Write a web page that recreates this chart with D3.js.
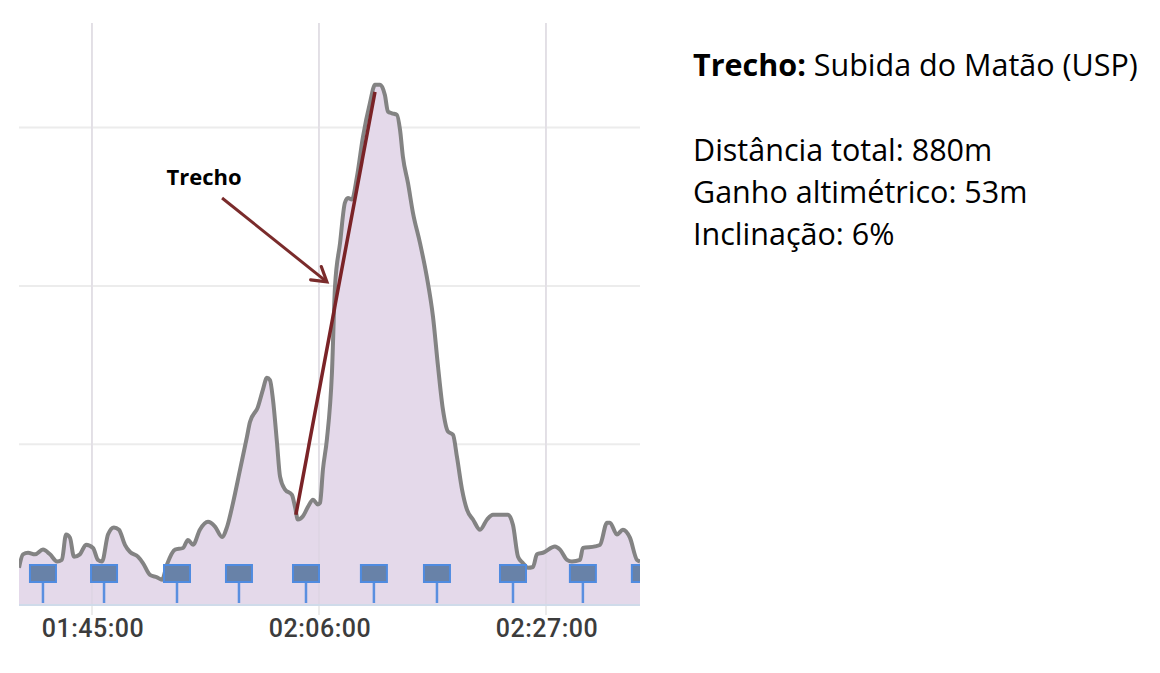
<!DOCTYPE html>
<html>
<head>
<meta charset="utf-8">
<script src="https://cdn.jsdelivr.net/npm/d3@7"></script>
<style>
  body { margin: 0; background: #fff; }
  svg { display: block; }
</style>
</head>
<body>
<svg id="chart"></svg>
<script>
const WIDTH = 1160;
const HEIGHT = 673;

// elevation profile (time, metres)
const profileTimes = [
  "01:38:15","01:38:37","01:39:05","01:39:44","01:40:28","01:41:07","01:41:46","01:42:13",
  "01:42:36","01:42:58","01:43:20","01:43:53","01:44:27","01:45:06","01:45:33","01:45:56",
  "01:46:29","01:47:02","01:47:30","01:48:03","01:48:31","01:49:15","01:49:43","01:50:22",
  "01:51:01","01:51:29","01:51:56","01:52:41","01:53:25","01:53:53","01:54:21","01:54:59",
  "01:55:44","01:56:23","01:57:02","01:57:29","01:58:03","01:58:42","01:59:20","01:59:37",
  "02:00:21","02:00:49","02:01:11","02:01:28","02:01:45","02:02:07","02:02:24","02:02:51",
  "02:03:30","02:03:47","02:04:03","02:04:31","02:04:59","02:05:27","02:05:54","02:06:06",
  "02:06:22","02:06:44","02:07:12","02:07:29","02:07:57","02:08:24","02:08:41","02:09:03",
  "02:09:31","02:10:04","02:10:43","02:11:11","02:11:39","02:12:06","02:12:23","02:12:45",
  "02:13:13","02:13:30","02:13:46","02:14:14","02:14:42","02:15:21","02:15:59","02:16:33",
  "02:17:01","02:17:28","02:17:56","02:18:24","02:18:46","02:19:14","02:19:42","02:20:15",
  "02:20:54","02:21:33","02:22:06","02:23:29","02:23:57","02:24:25","02:24:52","02:25:20",
  "02:25:48","02:26:10","02:26:43","02:27:50","02:28:18","02:28:57","02:29:24","02:30:09",
  "02:30:25","02:31:32","02:32:00","02:32:39","02:32:55","02:33:34","02:34:07","02:34:46",
  "02:35:25","02:35:42"
];
const profileElev = [
  724.4,726.1,726.3,726.1,726.7,726.1,725.2,725.4,
  728.6,728.2,725.8,726.1,727.3,726.9,725.4,725.2,
  728.6,729.5,729.2,727.3,726.4,725.8,725.0,723.5,
  723.2,722.9,724.8,726.7,726.9,727.9,727.3,729.2,
  730.2,729.6,728.3,729.5,732.6,736.8,740.9,742.8,
  744.7,746.9,748.4,748.1,745.6,740.2,735.9,734.3,
  733.6,732.1,730.5,730.9,732.1,733.0,732.4,732.6,
  736.8,740.6,749.0,759.9,765.4,770.5,771.1,770.9,
  773.8,778.8,783.1,785.4,785.4,784.1,782.0,781.8,
  781.6,779.7,776.3,773.0,769.2,765.4,761.1,756.1,
  749.8,744.4,741.6,741.2,738.4,734.3,731.7,730.5,
  729.2,730.5,731.1,731.1,729.8,725.8,725.0,724.4,
  724.5,726.1,726.3,727.1,726.7,725.4,725.2,725.4,
  726.9,727.1,727.3,730.1,730.1,728.6,729.2,728.2,
  725.4,725.2
];

// lap markers along the bottom
const lapTimes = ["01:40:28","01:46:07","01:52:52","01:58:36","02:04:48",
                  "02:11:05","02:16:55","02:23:57","02:30:25","02:36:09"];

const tickLabels = ["01:45:00", "02:06:00", "02:27:00"];
const gridLevels = [740, 760, 780];
const timeDomain = ["01:38:15", "02:35:42"];
const elevDomain = [719.7, 793.2];

// the highlighted climb and the arrow pointing at it
const trechoTimes = ["02:03:52", "02:11:11"];
const trechoElev = [731.1, 784.5];
const arrowTimes = ["01:57:02", "02:06:44"];
const arrowElev = [771.1, 760.5];
const arrowLabel = "Trecho";

const infoTitle = ["Trecho:", " Subida do Matão (USP)"];
const infoLines = ["Distância total: 880m", "Ganho altimétrico: 53m", "Inclinação: 6%"];

const parseTime = d3.timeParse("%H:%M:%S");

const LEFT = 19, RIGHT = 640, TOP = 23, BOTTOM = 605;

const svg = d3.select("#chart")
    .attr("width", WIDTH)
    .attr("height", HEIGHT);

const x = d3.scaleTime()
    .domain(timeDomain.map(parseTime))
    .range([LEFT, RIGHT]);

const y = d3.scaleLinear()
    .domain(elevDomain)
    .range([BOTTOM, TOP]);

svg.append("defs").append("clipPath")
    .attr("id", "plot-clip")
  .append("rect")
    .attr("x", LEFT).attr("y", 0)
    .attr("width", RIGHT - LEFT).attr("height", HEIGHT);

// grid
svg.append("g").selectAll("line")
    .data(gridLevels)
    .join("line")
    .attr("x1", LEFT).attr("x2", RIGHT)
    .attr("y1", d => y(d)).attr("y2", d => y(d))
    .attr("stroke", "#ececec")
    .attr("stroke-width", 2);

const ticks = tickLabels.map(parseTime);

svg.append("g").selectAll("line")
    .data(ticks)
    .join("line")
    .attr("x1", d => x(d)).attr("x2", d => x(d))
    .attr("y1", TOP).attr("y2", BOTTOM + 10)
    .attr("stroke", "#ececec")
    .attr("stroke-width", 2);

const data = profileTimes.map((t, i) => ({ t: parseTime(t), e: profileElev[i] }));

const plot = svg.append("g").attr("clip-path", "url(#plot-clip)");

plot.append("path")
    .datum(data)
    .attr("fill", "#e4d9ea")
    .attr("d", d3.area()
        .x(d => x(d.t))
        .y0(BOTTOM)
        .y1(d => y(d.e))
        .curve(d3.curveMonotoneX));

// vertical grid shows faintly through the fill
plot.append("g").selectAll("line")
    .data(ticks)
    .join("line")
    .attr("x1", d => x(d)).attr("x2", d => x(d))
    .attr("y1", TOP).attr("y2", BOTTOM)
    .attr("stroke", "#d9d3e0")
    .attr("stroke-width", 1.5)
    .attr("opacity", 0.6);

plot.append("path")
    .datum(data)
    .attr("fill", "none")
    .attr("stroke", "#838383")
    .attr("stroke-width", 4)
    .attr("stroke-linejoin", "round")
    .attr("d", d3.line()
        .x(d => x(d.t))
        .y(d => y(d.e))
        .curve(d3.curveMonotoneX));

// axis line
svg.append("line")
    .attr("x1", LEFT).attr("x2", RIGHT)
    .attr("y1", BOTTOM).attr("y2", BOTTOM)
    .attr("stroke", "#cfdbea")
    .attr("stroke-width", 2);

// lap markers
const laps = plot.append("g").selectAll("g")
    .data(lapTimes.map(parseTime))
    .join("g")
    .attr("transform", d => "translate(" + x(d) + ",0)");

laps.append("line")
    .attr("y1", 582).attr("y2", BOTTOM - 2)
    .attr("stroke", "#5a8fe0")
    .attr("stroke-width", 2.5);

laps.append("rect")
    .attr("x", -13).attr("y", 565)
    .attr("width", 26).attr("height", 17)
    .attr("fill", "#6882a8")
    .attr("stroke", "#4f8be0")
    .attr("stroke-width", 2);

// tick labels
svg.append("g").selectAll("text")
    .data(ticks)
    .join("text")
    .attr("x", d => x(d) + 1)
    .attr("y", 637)
    .attr("text-anchor", "middle")
    .attr("font-family", "Roboto, sans-serif")
    .attr("font-weight", 500)
    .attr("font-size", 25)
    .attr("fill", "#3c3c3c")
    .attr("letter-spacing", 0.5)
    .text((d, i) => tickLabels[i]);

// highlighted stretch
svg.append("line")
    .attr("x1", x(parseTime(trechoTimes[0]))).attr("y1", y(trechoElev[0]))
    .attr("x2", x(parseTime(trechoTimes[1]))).attr("y2", y(trechoElev[1]))
    .attr("stroke", "#7a2327")
    .attr("stroke-width", 3.5);

// arrow
svg.select("defs").append("marker")
    .attr("id", "head")
    .attr("markerUnits", "userSpaceOnUse")
    .attr("viewBox", "-18 -12 22 24")
    .attr("markerWidth", 22).attr("markerHeight", 24)
    .attr("refX", 0).attr("refY", 0)
    .attr("orient", "auto")
  .append("path")
    .attr("d", "M-14,-8.5 L0,0 L-14,8.5")
    .attr("fill", "none")
    .attr("stroke", "#7a2b2b")
    .attr("stroke-width", 3.2)
    .attr("stroke-linecap", "round")
    .attr("stroke-linejoin", "miter");

const ax0 = x(parseTime(arrowTimes[0])), ay0 = y(arrowElev[0]);
const ax1 = x(parseTime(arrowTimes[1])), ay1 = y(arrowElev[1]);

svg.append("line")
    .attr("x1", ax0).attr("y1", ay0)
    .attr("x2", ax1).attr("y2", ay1)
    .attr("stroke", "#7a2b2b")
    .attr("stroke-width", 3)
    .attr("marker-end", "url(#head)");

svg.append("text")
    .attr("x", ax0 - 18)
    .attr("y", ay0 - 13)
    .attr("text-anchor", "middle")
    .attr("font-family", "'Open Sans', sans-serif")
    .attr("font-weight", 700)
    .attr("font-size", 22)
    .attr("fill", "#000")
    .text(arrowLabel);

// info text on the right
const title = svg.append("text")
    .attr("x", 693)
    .attr("y", 76)
    .attr("font-family", "'Open Sans', sans-serif")
    .attr("font-size", 30.5)
    .attr("fill", "#000");
title.append("tspan").attr("font-weight", 700).text(infoTitle[0]);
title.append("tspan").text(infoTitle[1]);

svg.append("g").selectAll("text")
    .data(infoLines)
    .join("text")
    .attr("x", 693)
    .attr("y", (d, i) => 161 + i * 42)
    .attr("font-family", "'Open Sans', sans-serif")
    .attr("font-size", 30.5)
    .attr("fill", "#000")
    .text(d => d);
</script>
</body>
</html>
